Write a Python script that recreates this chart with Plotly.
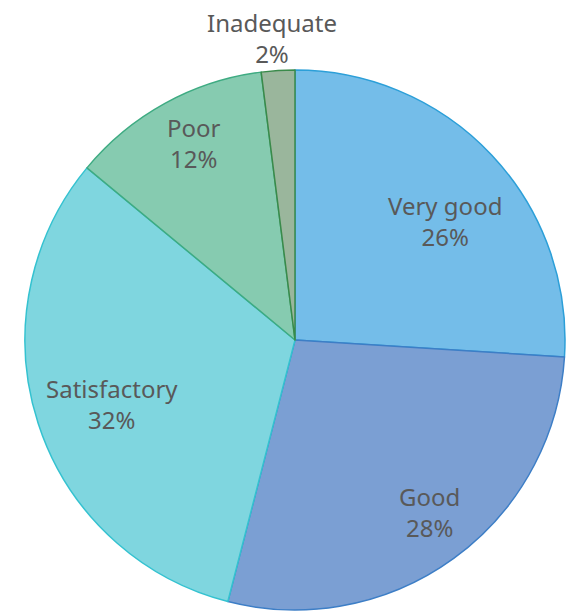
import numpy as np
import plotly.graph_objects as go

# Survey rating distribution
categories = ["Very good", "Good", "Satisfactory", "Poor", "Inadequate"]
shares = [26, 28, 32, 12, 2]

fill_colors = ["#74bde9", "#7b9fd3", "#7fd6df", "#86cbb0", "#9ab69c"]
edge_colors = ["#2c9fd8", "#3d7ec6", "#34c2d0", "#3eab82", "#3a8a4a"]
# radial position of each label, as a fraction of the pie radius,
# plus a small pixel nudge (dx, dy)
label_radius = [0.71, 0.81, 0.72, 0.82, 1.13]
label_nudge = [(10, 12), (6, -5), (2, 4), (6, -3), (-4, 2)]

W, H = 567, 612
cx, cy, R = 295, 340, 270

fig = go.Figure(
    go.Pie(
        labels=categories,
        values=shares,
        sort=False,
        direction="clockwise",
        rotation=0,
        textinfo="none",
        marker=dict(colors=fill_colors, line=dict(color=edge_colors, width=1.5)),
        domain=dict(x=[(cx - R) / W, (cx + R) / W], y=[1 - (cy + R) / H, 1 - (cy - R) / H]),
        showlegend=False,
    )
)

# place each label at its slice's mid-angle
vals = np.array(shares, dtype=float)
mid = (np.cumsum(vals) - vals / 2) / vals.sum() * 2 * np.pi
annotations = []
for name, v, ang, fr, (dx, dy) in zip(categories, shares, mid, label_radius, label_nudge):
    px = cx + fr * R * np.sin(ang) + dx
    py = cy - fr * R * np.cos(ang) + dy
    annotations.append(
        dict(
            x=px / W,
            y=1 - py / H,
            xref="paper",
            yref="paper",
            xanchor="center",
            yanchor="middle",
            text=f"{name}<br>{v}%",
            showarrow=False,
            font=dict(family="Noto Sans, Open Sans, sans-serif", size=24, color="#595959"),
            align="center",
        )
    )

fig.update_layout(
    width=W,
    height=H,
    margin=dict(l=0, r=0, t=0, b=0),
    paper_bgcolor="white",
    plot_bgcolor="white",
    annotations=annotations,
)

fig.write_html("out.html")
